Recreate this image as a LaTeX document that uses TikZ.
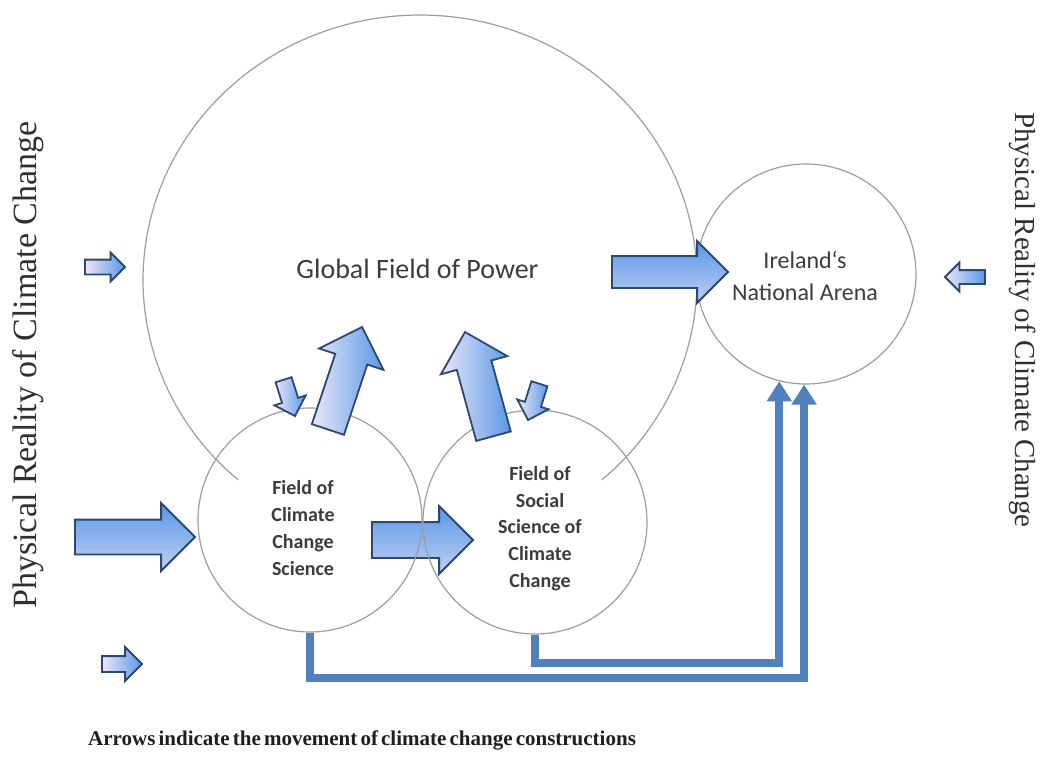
\documentclass[tikz,border=0pt]{standalone}
\usepackage{fontspec}
\setmainfont{Liberation Serif}
\newfontfamily\calibri{Carlito}
\usetikzlibrary{shapes.arrows,arrows.meta,calc}
\definecolor{arrowblue}{RGB}{88,152,232}
\definecolor{arrowlight}{RGB}{236,230,246}
\definecolor{arrowline}{RGB}{44,72,110}
\definecolor{connblue}{RGB}{79,129,189}
\definecolor{ringgray}{RGB}{158,158,158}
\definecolor{txtgray}{RGB}{60,60,60}
\begin{document}
\begin{tikzpicture}[x=1pt,y=-1pt,
  ring/.style={circle,draw=ringgray,line width=1.2pt,inner sep=0pt},
  blockarrow/.style={single arrow,draw=arrowline,line width=1.8pt,inner sep=0pt,outer sep=0pt,single arrow tip angle=90,text depth=0pt,anchor=tip},
  flowgrad/.style={left color=arrowlight,right color=arrowblue},
  bandgrad/.style={top color=arrowblue,bottom color=arrowlight!70!arrowblue},
  conn/.style={draw=connblue,line width=8pt,-{Triangle[width=24pt,length=20pt]}},
  calibritext/.style={text=txtgray,inner sep=0pt},
  sidetext/.style={text=txtgray!80!black,inner sep=0pt}]
\useasboundingbox (0,0) rectangle (1043,758);
\fill[white] (0,0) rectangle (1043,758);

% big field of power arc
\draw[ringgray,line width=1.2pt] plot[domain=131:409,samples=160] ({420+277*cos(\x)},{280+265*sin(\x)});

% middle block arrow (circles drawn over it)
\node[blockarrow,bandgrad,minimum height=101pt,text height=34pt,single arrow head extend=16pt] (amid) at (473,540) {};

% circles
\node[ring,minimum size=224pt] (ccs) at (310,520) {};
\node[ring,minimum size=224pt] (soc) at (535,522) {};
\node[ring,minimum size=220pt] (ire) at (806,274) {};

% block arrows (placed by their tips)
\node[blockarrow,flowgrad,minimum height=40pt,text height=13pt,single arrow head extend=7pt] (al1) at (125,267) {};
\node[blockarrow,bandgrad,minimum height=120pt,text height=33pt,single arrow head extend=16.5pt] (al2) at (195,537) {};
\node[blockarrow,flowgrad,minimum height=40pt,text height=14pt,single arrow head extend=9pt] (al3) at (142,664) {};
\node[blockarrow,flowgrad,minimum height=40pt,text height=12pt,single arrow head extend=7.5pt,rotate=180] (ar) at (945,277) {};
\node[blockarrow,bandgrad,minimum height=116pt,text height=30pt,single arrow head extend=15pt] (atop) at (728,272) {};
\node[blockarrow,flowgrad,minimum height=108pt,text height=32pt,single arrow head extend=17pt,rotate=71.6] (aup1) at (362,327) {};
\node[blockarrow,flowgrad,minimum height=108pt,text height=34pt,single arrow head extend=16.5pt,rotate=105.3] (aup2) at (465,332) {};
\node[blockarrow,flowgrad,minimum height=38pt,text height=15pt,single arrow head extend=8pt,rotate=-72.5] (adn1) at (295,416) {};
\node[blockarrow,flowgrad,minimum height=38pt,text height=15pt,single arrow head extend=8pt,rotate=-107.5] (adn2) at (528,420) {};

% connectors
\draw[conn] (ccs.south) -- ++(0,45) -| (ire.-91.5);
\draw[conn] (soc.south) -- ++(0,28) -| (ire.-104);

% texts
\node[calibritext,font=\calibri\fontsize{28}{34}\selectfont,anchor=base] (gfp) at (417.5,278) {Global Field of Power};
\node[calibritext,font=\calibri\fontsize{24}{32}\selectfont,align=center] (iretext) at (805,276) {Ireland‘s\\National Arena};
\node[calibritext,font=\calibri\bfseries\fontsize{20}{26.7}\selectfont,align=center] (ccstext) at (303,528) {Field of\\Climate\\Change\\Science};
\node[calibritext,font=\calibri\bfseries\fontsize{20}{26.7}\selectfont,align=center] (soctext) at (540,528.5) {Field of\\Social\\Science of\\Climate\\Change};
\node[sidetext,font=\fontsize{34}{40}\selectfont,rotate=90,anchor=base] (lside) at (36,365) {Physical Reality of Climate Change};
\node[sidetext,font=\fontsize{29}{34}\selectfont,rotate=-90,anchor=base] (rside) at (1015,320) {Physical Reality of Climate Change};
\node[inner sep=0pt,text=black!88,font=\bfseries\fontsize{21}{25}\selectfont,anchor=base west] (caption) at (88,745) {\spaceskip=0.15em Arrows indicate the movement of climate change constructions};
\end{tikzpicture}
\end{document}
